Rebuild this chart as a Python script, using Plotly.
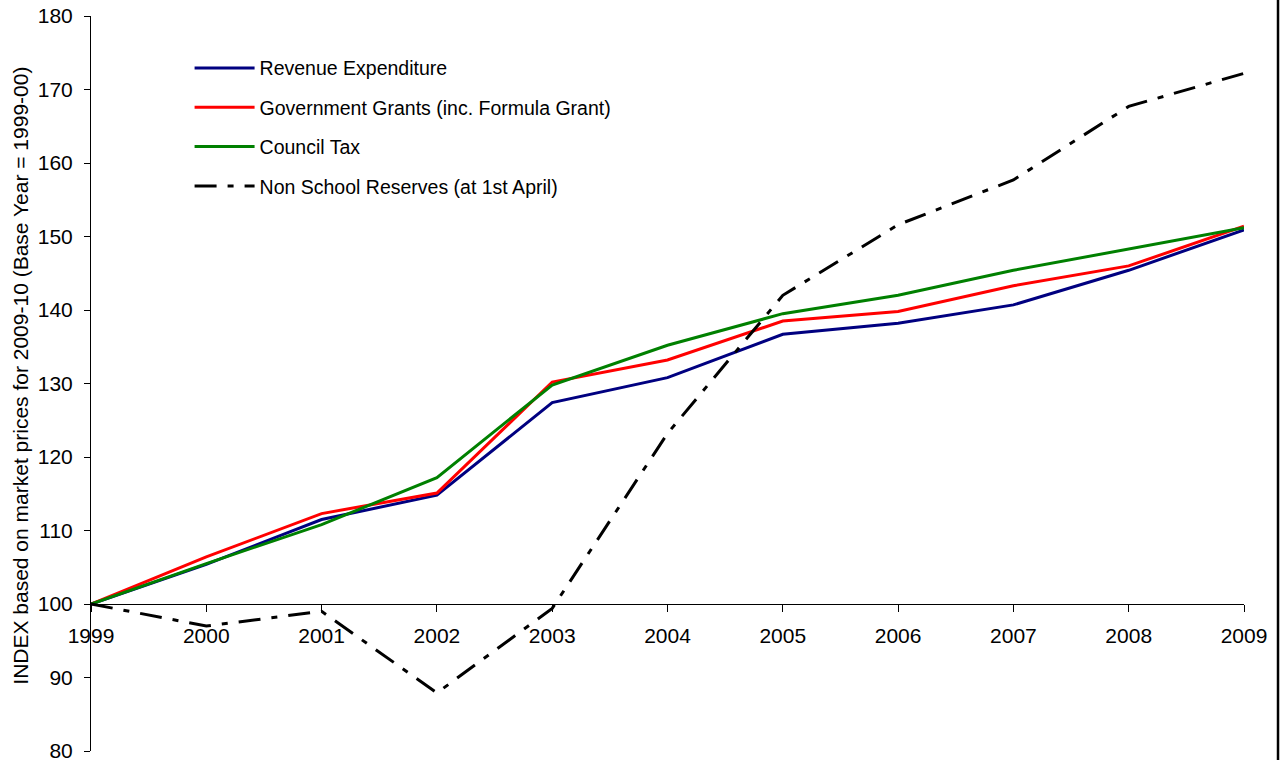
import plotly.graph_objects as go

years = [1999, 2000, 2001, 2002, 2003, 2004, 2005, 2006, 2007, 2008, 2009]
revenue_expenditure = [100, 105.4, 111.5, 114.8, 127.4, 130.8, 136.7, 138.2, 140.7, 145.4, 150.9]
government_grants = [100, 106.4, 112.3, 115.1, 130.2, 133.2, 138.5, 139.8, 143.3, 146.0, 151.4]
council_tax = [100, 105.5, 110.8, 117.2, 129.8, 135.2, 139.5, 142.0, 145.4, 148.3, 151.2]
non_school_reserves = [100, 97.0, 99.0, 87.9, 99.4, 123.2, 142.0, 151.6, 157.7, 167.7, 172.2]
y_title = "INDEX based on market prices for 2009-10 (Base Year = 1999-00)"

series = [
    ("Revenue Expenditure", revenue_expenditure, "#000080", "solid"),
    ("Government Grants (inc. Formula Grant)", government_grants, "#FF0000", "solid"),
    ("Council Tax", council_tax, "#008000", "solid"),
    ("Non School Reserves (at 1st April)", non_school_reserves, "#000000", "22px,11px,6px,11px"),
]

FONT = "Liberation Sans, Arial, sans-serif"

fig = go.Figure()
for i, (name, vals, color, dash) in enumerate(series):
    fig.add_trace(go.Scatter(
        x=years, y=vals, name=name, mode="lines",
        line=dict(color=color, width=3, dash=dash),
        legendgroup=f"g{i}",
    ))

fig.update_layout(
    width=1280, height=760,
    margin=dict(l=91, r=36, t=16, b=9, autoexpand=False),
    paper_bgcolor="white", plot_bgcolor="white",
    font=dict(family=FONT, color="black", size=19),
    showlegend=True,
    legend=dict(
        x=0.0855, y=0.9555, xanchor="left", yanchor="top",
        bgcolor="rgba(0,0,0,0)", font=dict(size=19.5, family=FONT),
        traceorder="grouped", tracegroupgap=11, itemwidth=60,
    ),
    xaxis=dict(
        range=[1999, 2009], tickmode="array", tickvals=years,
        ticktext=[str(y) for y in years],
        showgrid=False, zeroline=False, showline=True, linecolor="black", linewidth=1,
        ticks="outside", ticklen=7, tickcolor="black",
        anchor="free", position=0.2, automargin=False,
        ticklabelstandoff=6, ticklabeloverflow="allow",
        tickfont=dict(size=21, family=FONT),
    ),
    yaxis=dict(
        range=[80, 180], dtick=10, tick0=80,
        showgrid=False, zeroline=False, showline=True, linecolor="black", linewidth=1,
        ticks="outside", ticklen=6, tickcolor="black", automargin=False,
        ticklabelstandoff=7, ticklabeloverflow="allow",
        tickfont=dict(size=21, family=FONT),
        domain=[0, 1],
    ),
    annotations=[dict(
        text=y_title, textangle=-90, showarrow=False,
        xref="paper", yref="paper", x=-0.0611, y=0.510,
        xanchor="center", yanchor="middle",
        font=dict(size=21, family=FONT, color="black"),
    )],
    shapes=[dict(type="line", xref="paper", yref="paper",
                 x0=1.0295, x1=1.0295, y0=-0.03, y1=1.03,
                 line=dict(color="black", width=2.5))],
)

fig.write_html("out.html",
               config={"displayModeBar": False},
               post_script="document.body.style.margin='0';document.body.style.overflow='hidden';")
